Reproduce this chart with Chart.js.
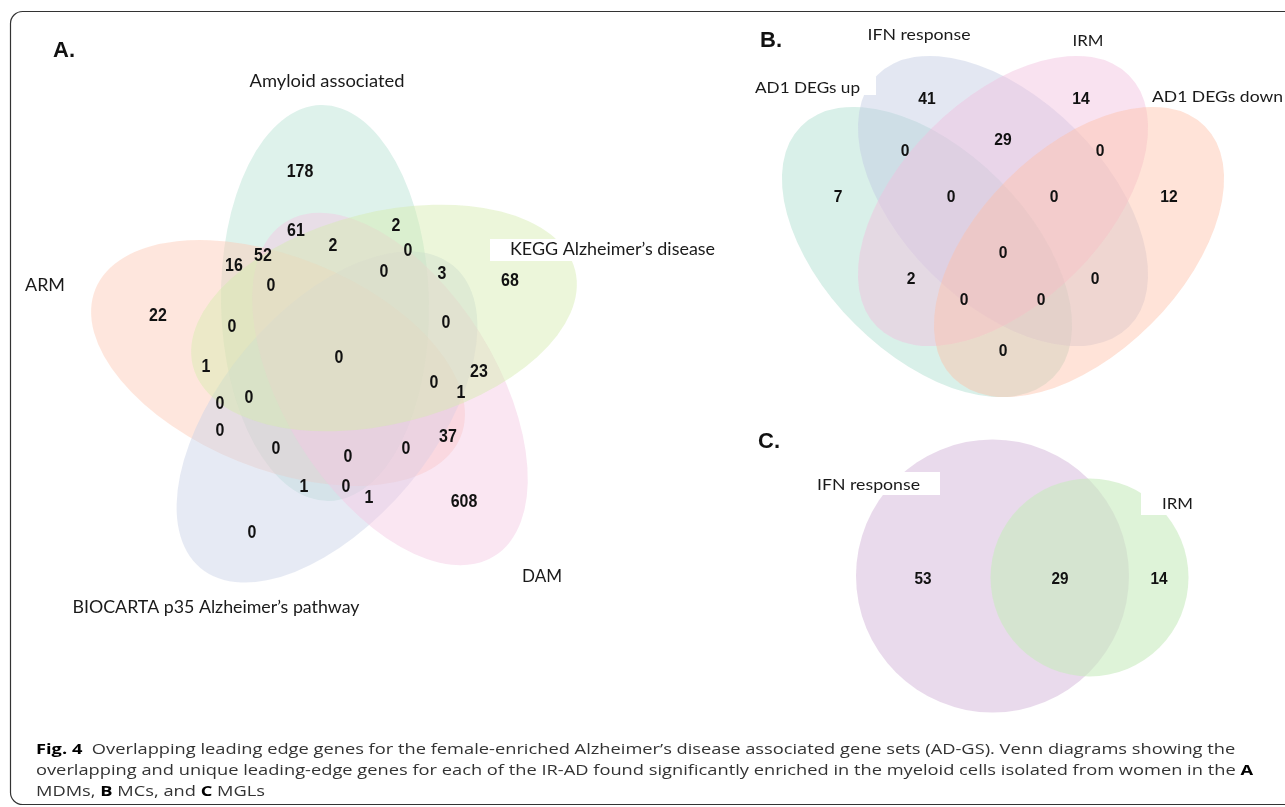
<!DOCTYPE html>
<html>
<head>
<meta charset="utf-8">
<script src="https://cdn.jsdelivr.net/npm/chart.js@4/dist/chart.umd.min.js"></script>
<style>
  html, body { margin: 0; padding: 0; background: #ffffff; }
  canvas { display: block; }
</style>
</head>
<body>
<canvas id="fig" width="1285" height="807"></canvas>
<script>
// ---------- data ----------
// A: MDMs, five gene sets (drawing order)
const setsA = ['Amyloid associated', 'ARM', 'BIOCARTA p35 Alzheimer’s pathway', 'DAM', 'KEGG Alzheimer’s disease'];
const countsA = [178, 68, 608, 0, 22, 61, 2, 52, 2, 0, 16, 0, 3, 0, 0, 0, 0, 1, 23, 0, 1, 0, 0, 0, 37, 0, 0, 0, 1, 0, 1];
// B: MCs, four gene sets
const setsB = ['AD1 DEGs up', 'IFN response', 'IRM', 'AD1 DEGs down'];
const countsB = [41, 29, 14, 0, 0, 0, 0, 0, 7, 2, 0, 0, 0, 12, 0];
// C: MGLs, two gene sets
const setsC = ['IFN response', 'IRM'];
const countsC = [53, 29, 14];

// ---------- layout (page units) ----------
const cellPosA = [[300,171],[510,280],[464,501],[252,532],[158,315],[296,230],[396,225],[263,255],[333,245],[408,250],
  [234,265],[384,271],[442,273],[271,285],[232,326],[446,322],[339,357],[206,366],[479,371],[434,382],
  [461,392],[220,403],[249,397],[220,430],[448,436],[276,448],[348,456],[406,448],[304,486],[346,486],[369,497]];
const cellPosB = [[927,98],[1003,139],[1081,98],[905,150],[951,196],[1003,252],[1054,196],[1100,150],[838,196],
  [911,278],[964,299],[1041,299],[1095,278],[1169,196],[1003,350]];
const cellPosC = [[923,578],[1060,578],[1159,578]];

// ellipses: [cx, cy, semi-major, semi-minor, rotation deg]
const shapesA = [[325,303,198,104,88.8],[278,363,197,106,22],[327,417,197,106,130],[390,389,197,106,58],[384,318,197,106,-14]];
const shapesB = [[927,252,178,102,45],[1003,201,178,102,45],[1003,201,178,102,-45],[1079,252,178,102,-45]];
const shapesC = [[992.5,576,136.5],[1089.5,577.5,99]];

const fillsA = ['#66C2A5','#FC8D62','#8DA0CB','#E78AC3','#A6D854'];
const fillsB = ['#66C2A5','#8DA0CB','#E78AC3','#FC8D62'];
const fillsC = ['rgba(152,78,163,0.21)', 'rgba(200,235,190,0.6)'];

// set-name labels: [x, y, width, align, whiteBox]
const nameA = [[327,82,155,'center'],[45,286,40,'center'],[216,608,287,'center'],[542,577,40,'center'],[510,250,205,'left',[490,239,232,22]]];
const nameB = [[755,88,105,'left',[748,77,128,18]],[919,35,103,'center'],[1088,41,31,'center'],[1152,97,131,'left']];
const nameC = [[817,485,103,'left',[812,472,128,23]],[1162,504,31,'left',[1141,492,62,23]]];

const panelTags = [['A.',53,57],['B.',760,47],['C.',758,448]];

const captionLines = [
  [['Fig. 4', true], ['  Overlapping leading edge genes for the female-enriched Alzheimer’s disease associated gene sets (AD-GS). Venn diagrams showing the', false]],
  [['overlapping and unique leading-edge genes for each of the IR-AD found significantly enriched in the myeloid cells isolated from women in the ', false], ['A', true]],
  [['MDMs, ', false], ['B', true], [' MCs, and ', false], ['C', true], [' MGLs', false]]
];
const captionY = [750, 771, 792];

// ---------- helpers ----------
function hexA(hex, a) {
  const n = parseInt(hex.slice(1), 16);
  return `rgba(${(n >> 16) & 255},${(n >> 8) & 255},${n & 255},${a})`;
}
function fitText(ctx, text, x, y, size, width, align, weight, family) {
  ctx.save();
  ctx.font = `${weight} ${size}px ${family}`;
  const w = ctx.measureText(text).width;
  const sx = width ? width / w : 1;
  ctx.translate(x, y);
  ctx.scale(sx, 1);
  ctx.textBaseline = 'middle';
  ctx.textAlign = align;
  ctx.fillStyle = '#1a1a1a';
  ctx.fillText(text, 0, 0);
  ctx.restore();
}

const LABEL_FONT = 'Lato, "Open Sans", sans-serif';
const NUM_FONT = '"Liberation Sans", Arial, sans-serif';

// shapes of one diagram are layered on their own sheet, then laid down translucently
function layerEllipses(chart, shapes, fills, layerAlpha, sheetAlpha) {
  const xs = chart.scales.x, ys = chart.scales.y;
  const sheet = document.createElement('canvas');
  sheet.width = chart.width;
  sheet.height = chart.height;
  const s = sheet.getContext('2d');
  shapes.forEach((e, i) => {
    const cx = xs.getPixelForValue(e[0]), cy = ys.getPixelForValue(e[1]);
    const ra = Math.abs(xs.getPixelForValue(e[0] + e[2]) - cx);
    const rb = Math.abs(ys.getPixelForValue(e[1] + e[3]) - cy);
    s.beginPath();
    s.ellipse(cx, cy, ra, rb, e[4] * Math.PI / 180, 0, Math.PI * 2);
    s.fillStyle = hexA(fills[i], layerAlpha);
    s.fill();
  });
  const c = chart.ctx;
  c.save();
  c.globalAlpha = sheetAlpha;
  c.drawImage(sheet, 0, 0, chart.width, chart.height);
  c.restore();
}

const vennPlugin = {
  id: 'venn',
  beforeDraw(chart) {
    const c = chart.ctx;
    c.save();
    c.fillStyle = '#ffffff';
    c.fillRect(0, 0, chart.width, chart.height);
    c.restore();
  },
  beforeDatasetsDraw(chart) {
    const c = chart.ctx, xs = chart.scales.x, ys = chart.scales.y;
    const px = v => xs.getPixelForValue(v), py = v => ys.getPixelForValue(v);

    // frame
    c.save();
    c.strokeStyle = '#333';
    c.lineWidth = 1.2;
    c.beginPath();
    c.roundRect(px(10.5), py(11.5), px(1300) - px(10.5), py(804.5) - py(11.5), 12);
    c.stroke();
    c.restore();

    layerEllipses(chart, shapesA, fillsA, 0.45, 0.48);
    layerEllipses(chart, shapesB, fillsB, 0.45, 0.55);
    c.save();
    shapesC.forEach((s, i) => {
      const cx = px(s[0]), cy = py(s[1]), r = Math.abs(px(s[0] + s[2]) - cx);
      c.beginPath();
      c.arc(cx, cy, r, 0, Math.PI * 2);
      c.fillStyle = fillsC[i];
      c.fill();
    });
    c.restore();

    // set names (with white backing boxes where they sit on a shape)
    const drawNames = (names, spec, size) => {
      spec.forEach((s, i) => {
        if (s[4]) {
          const b = s[4];
          c.save();
          c.fillStyle = '#ffffff';
          c.fillRect(px(b[0]), py(b[1]), px(b[0] + b[2]) - px(b[0]), py(b[1] + b[3]) - py(b[1]));
          c.restore();
        }
        fitText(c, names[i], px(s[0]), py(s[1]), size, s[2], s[3], 'normal', LABEL_FONT);
      });
    };
    drawNames(setsA, nameA, 17);
    drawNames(setsB, nameB, 16);
    drawNames(setsC, nameC, 16);

    // panel tags
    panelTags.forEach(t => {
      c.save();
      c.font = 'bold 22px ' + NUM_FONT;
      c.fillStyle = '#111';
      c.textBaseline = 'alphabetic';
      c.textAlign = 'left';
      c.fillText(t[0], px(t[1]), py(t[2]));
      c.restore();
    });

    // caption
    const capSize = 14.5, capFam = '"Open Sans", "Noto Sans", sans-serif';
    const measureLine = line => line.reduce((w, r) => {
      c.font = `${r[1] ? 'bold' : 'normal'} ${capSize}px ${capFam}`;
      return w + c.measureText(r[0]).width;
    }, 0);
    const sx = 1217 / measureLine(captionLines[1]);
    captionLines.forEach((line, li) => {
      c.save();
      c.translate(px(36), py(captionY[li]));
      c.scale(sx, 1);
      c.textBaseline = 'middle';
      c.textAlign = 'left';
      let x = 0;
      line.forEach(r => {
        c.font = `${r[1] ? 'bold' : 'normal'} ${capSize}px ${capFam}`;
        c.fillStyle = r[1] ? '#000' : '#333';
        c.fillText(r[0], x, 0);
        x += c.measureText(r[0]).width;
      });
      c.restore();
    });
  },
  afterDatasetsDraw(chart) {
    const c = chart.ctx;
    chart.data.datasets.forEach((ds, di) => {
      const meta = chart.getDatasetMeta(di);
      meta.data.forEach((el, i) => {
        const p = el.getProps(['x', 'y'], true);
        c.save();
        c.translate(p.x, p.y);
        c.scale(ds.numScaleX, 1);
        c.font = `bold ${ds.numSize}px ${NUM_FONT}`;
        c.fillStyle = '#111';
        c.textAlign = 'center';
        c.textBaseline = 'middle';
        c.fillText(String(ds.data[i].v), 0, 1);
        c.restore();
      });
    });
  }
};

const toPoints = (pos, vals) => vals.map((v, i) => ({ x: pos[i][0], y: pos[i][1], v }));

new Chart(document.getElementById('fig'), {
  type: 'scatter',
  data: {
    datasets: [
      { label: 'MDMs', data: toPoints(cellPosA, countsA), pointRadius: 0, numSize: 19, numScaleX: 0.84 },
      { label: 'MCs', data: toPoints(cellPosB, countsB), pointRadius: 0, numSize: 17, numScaleX: 0.92 },
      { label: 'MGLs', data: toPoints(cellPosC, countsC), pointRadius: 0, numSize: 17, numScaleX: 0.9 }
    ]
  },
  options: {
    responsive: false,
    animation: false,
    events: [],
    layout: { padding: 0 },
    plugins: { legend: { display: false }, tooltip: { enabled: false } },
    scales: {
      x: { type: 'linear', min: 0, max: 1285, display: false },
      y: { type: 'linear', min: 0, max: 807, reverse: true, display: false }
    }
  },
  plugins: [vennPlugin]
});
</script>
</body>
</html>
